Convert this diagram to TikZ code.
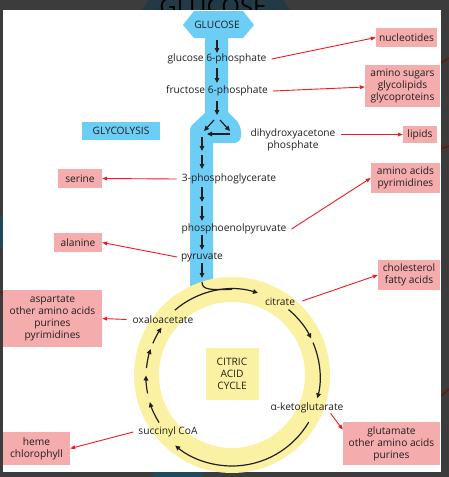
\documentclass[tikz,border=0pt]{standalone}
\usepackage{fontspec}
\setmainfont{Open Sans}
\usetikzlibrary{arrows.meta,calc}
\definecolor{frameC}{HTML}{3C3C3C}
\definecolor{tealD}{HTML}{223A45}
\definecolor{tealE}{HTML}{1E4A5A}
\definecolor{darkred}{HTML}{6A1418}
\definecolor{blueC}{HTML}{6CCDF5}
\definecolor{yellowC}{HTML}{FAF2A2}
\definecolor{pinkC}{HTML}{F5ACAC}
\definecolor{redC}{HTML}{ED1C24}
\definecolor{textC}{HTML}{231F20}
\begin{document}
\begin{tikzpicture}[x=1pt,y=1pt,
  lbl/.style={font=\fontsize{10.2}{12}\selectfont, text=textC, inner sep=1pt, align=center},
  pinkbox/.style={lbl, fill=pinkC, inner sep=0pt},
  blk/.style={draw=textC, line width=1.2pt, -{Triangle[length=5pt,width=4.6pt]}},
  blkline/.style={draw=textC, line width=1.2pt},
  redarr/.style={draw=redC, line width=0.9pt, -{Triangle[length=5pt,width=3.8pt]}}]
\useasboundingbox (0,0) rectangle (449,-477);
\begin{scope}
\clip (0,0) rectangle (449,-477);
% slide background bits
\fill[frameC] (0,0) rectangle (449,-477);
\fill[tealD] (141,-12) -- (148,0) -- (284,0) -- (291,-12) -- cycle;
\node[font=\fontsize{24}{24}\selectfont, text=black, anchor=base] (bigtitle) at (213,-15) {GLUCOSE};
\fill[tealE] (0,-217) rectangle (3,-247);
\fill[tealE] (153,-472) rectangle (203,-477);
\draw[darkred, line width=1.6pt] (441,-63) -- (449,-58);
\draw[darkred, line width=1.6pt] (441,-149) -- (449,-146);
\draw[darkred, line width=1.6pt] (441,-396) -- (449,-389);
\draw[darkred, line width=1.6pt] (0,-292) -- (3,-293);
% white panel
\fill[white] (3,-10) rectangle (441,-472);

% glycolysis pipe
\fill[blueC] (183,-25) -- (194,-11) -- (243,-11) -- (254,-25) -- (243,-38) -- (228,-38)
  -- (228,-112) [rounded corners=7pt] -- (241,-125) -- (241,-143) [sharp corners] -- (213,-143)
  -- (213,-292) -- (190,-292) [rounded corners=3pt] -- (190,-127) [sharp corners] -- (205,-113)
  -- (205,-38) -- (194,-38) -- cycle;

% citric acid ring
\coordinate (RC) at (232,-375);
\fill[yellowC, even odd rule] (RC) circle[radius=98pt] (RC) circle[radius=73pt];
\node[lbl, fill=yellowC, minimum width=53pt, minimum height=52pt, inner sep=0pt] (cycle) at (232,-374) {CITRIC\\ACID\\CYCLE};
\node[lbl, fill=blueC, minimum width=78pt, minimum height=18pt, inner sep=0pt] (glyco) at (121,-131) {GLYCOLYSIS};

% metabolite labels
\node[lbl] (glucose) at (217,-24.5) {GLUCOSE};
\node[lbl] (g6p) at (217,-59) {glucose 6-phosphate};
\node[lbl] (f6p) at (217,-91) {fructose 6-phosphate};
\node[lbl] (dhap) at (293,-140) {dihydroxyacetone\\phosphate};
\node[lbl] (pg3) at (229,-179) {3-phosphoglycerate};
\node[lbl] (pep) at (234,-229) {phosphoenolpyruvate};
\node[lbl] (pyr) at (202,-257) {pyruvate};
\node[lbl] (citrate) at (280,-302) {citrate};
\node[lbl] (oxalo) at (163,-319.5) {oxaloacetate};
\node[lbl] (akg) at (307,-408) {α-ketoglutarate};
\node[lbl] (succ) at (168,-432) {succinyl CoA};

% product boxes
\node[pinkbox, minimum width=61pt, minimum height=19pt] (nucl) at (406.5,-37.5) {nucleotides};
\node[pinkbox, minimum width=75pt, minimum height=42pt] (amsug) at (402.5,-86) {amino sugars\\glycolipids\\glycoproteins};
\node[pinkbox, minimum width=34pt, minimum height=17pt] (lipids) at (420,-134.5) {lipids};
\node[pinkbox, minimum width=69pt, minimum height=30pt] (aapyr) at (405.5,-178) {amino acids\\pyrimidines};
\node[pinkbox, minimum width=62pt, minimum height=30pt] (chol) at (409,-275) {cholesterol\\fatty acids};
\node[pinkbox, minimum width=97pt, minimum height=43pt] (glut) at (391.5,-443.5) {glutamate\\other amino acids\\purines};
\node[pinkbox, minimum width=44pt, minimum height=19pt] (serine) at (80,-178.5) {serine};
\node[pinkbox, minimum width=48pt, minimum height=19pt] (alanine) at (78,-242.5) {alanine};
\node[pinkbox, minimum width=99pt, minimum height=57pt] (asp) at (52.5,-318.5) {aspartate\\other amino acids\\purines\\pyrimidines};
\node[pinkbox, minimum width=67pt, minimum height=33pt] (heme) at (36.5,-448.5) {heme\\chlorophyll};

% glycolysis arrows
\draw[blk] (217,-40) -- (217,-53);
\draw[blk] (217,-68) -- (217,-83);
\draw[blk] (217,-101) -- (217,-115);
\draw[blk] (214,-120) -- (204,-131);
\draw[blk] (220,-120) -- (230,-131);
\draw[blk] (230,-134) -- (207,-134);
\draw[blk] (202,-137) -- (202,-151);
\draw[blk] (202,-155) -- (202,-169);
\draw[blk] (202,-187) -- (202,-202);
\draw[blk] (202,-206) -- (202,-221);
\draw[blk] (202,-235) -- (202,-250);
\draw[blk] (202,-263) -- (202,-278);
\draw[blkline] (202,-282) .. controls (202,-290) and (210,-290) .. (232,-289.3);

% cycle arrows
\coordinate (AC) at (232,-377);
\draw[blk] ($(AC)+(130.5:88pt)$) arc[start angle=130.5, end angle=72.8, radius=88pt];
\draw[blk] ($(AC)+(50:88pt)$) arc[start angle=50, end angle=26, radius=88pt];
\draw[blk] ($(AC)+(23:88pt)$) arc[start angle=23, end angle=-14, radius=88pt];
\draw[blk] ($(AC)+(-30.5:89pt)$) arc[start angle=-30.5, end angle=-129.7, radius=89pt];
\draw[blk] ($(AC)+(212:86pt)$) arc[start angle=212, end angle=197, radius=86pt];
\draw[blk] ($(AC)+(191:86pt)$) arc[start angle=191, end angle=179, radius=86pt];
\draw[blk] ($(AC)+(174:86pt)$) arc[start angle=174, end angle=161, radius=86pt];
\draw[blk] ($(AC)+(157:86pt)$) arc[start angle=157, end angle=145, radius=86pt];

% branch connectors
\draw[redarr] ([xshift=4pt]g6p.east) -- (nucl.west);
\draw[redarr] ([xshift=4pt]f6p.east) -- ([yshift=-1pt]amsug.west);
\draw[redarr] ([xshift=4pt]dhap.east |- lipids.west) -- (lipids.west);
\draw[redarr] ([xshift=-4pt]pg3.west) -- (serine.east);
\draw[redarr] ([xshift=4pt]pep.east) -- (aapyr.west);
\draw[redarr] ([xshift=-3pt]pyr.west) -- (alanine.east);
\draw[redarr] ([xshift=6pt,yshift=1pt]citrate.east) -- (chol.west);
\draw[redarr] ([xshift=-5pt]oxalo.west) -- (asp.east);
\draw[redarr] ([xshift=-14pt,yshift=1pt]akg.south east) -- ([yshift=-8pt]glut.north west);
\draw[redarr] ([xshift=-4pt]succ.west) -- (heme.east);
\end{scope}
\end{tikzpicture}
\end{document}
